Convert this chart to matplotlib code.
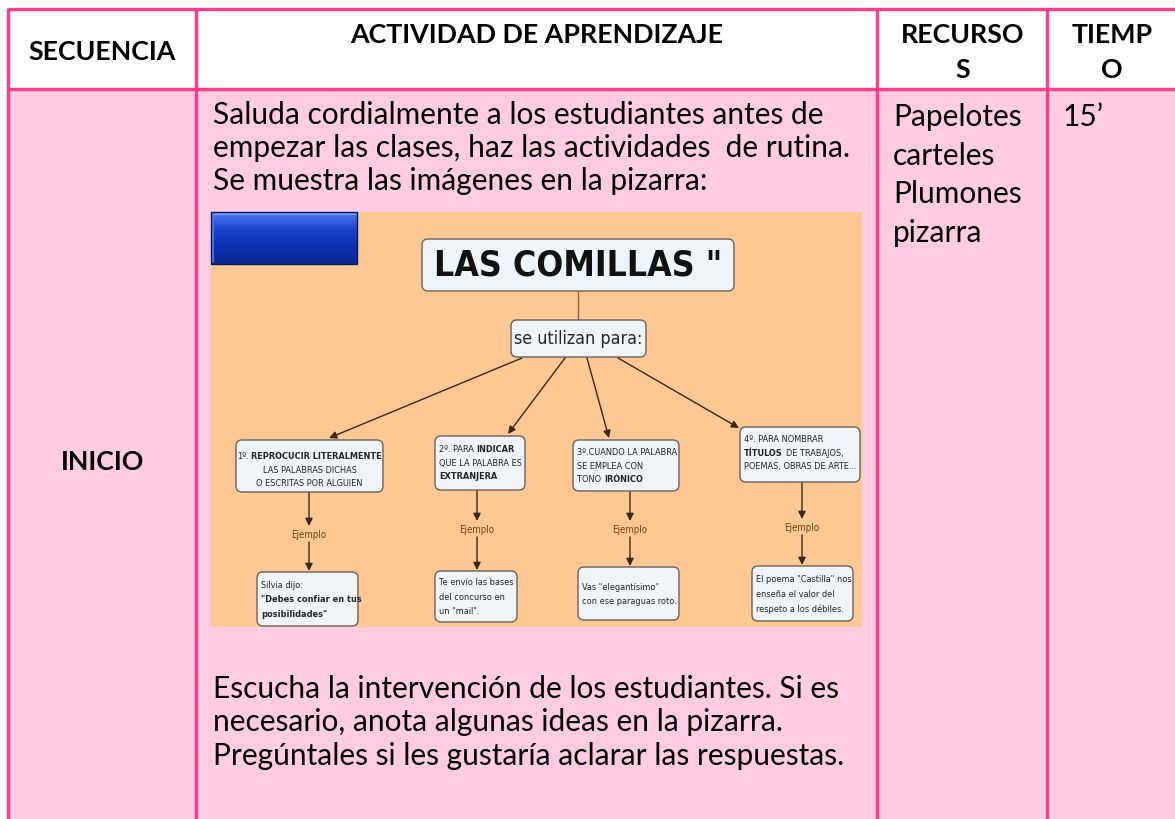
import matplotlib
matplotlib.use("Agg")
import matplotlib.pyplot as plt
import numpy as np
from matplotlib.patches import Rectangle, FancyBboxPatch
from matplotlib.colors import LinearSegmentedColormap

# table content
headers = ["SECUENCIA", "ACTIVIDAD DE APRENDIZAJE", "RECURSO\nS", "TIEMP\nO"]
stage = "INICIO"
activity_top = ["Saluda cordialmente a los estudiantes antes de",
                "empezar las clases, haz las actividades  de rutina.",
                "Se muestra las imágenes en la pizarra:"]
activity_bottom = ["Escucha la intervención de los estudiantes. Si es",
                   "necesario, anota algunas ideas en la pizarra.",
                   "Pregúntales si les gustaría aclarar las respuestas."]
resources = ["Papelotes", "carteles", "Plumones", "pizarra"]
time_txt = "15’"

# concept map content
map_title = 'LAS COMILLAS "'
map_link = "se utilizan para:"
uses = [
    [[("1º.", "normal"), ("REPROCUCIR LITERALMENTE", "bold")],
     [("LAS PALABRAS DICHAS", "normal")],
     [("O ESCRITAS POR ALGUIEN", "normal")]],
    [[("2º. PARA", "normal"), ("INDICAR", "bold")],
     [("QUE LA PALABRA ES", "normal")],
     [("EXTRANJERA", "bold")]],
    [[("3º.CUANDO LA PALABRA", "normal")],
     [("SE EMPLEA CON", "normal")],
     [("TONO", "normal"), ("IRÓNICO", "bold")]],
    [[("4º. PARA NOMBRAR", "normal")],
     [("TÍTULOS", "bold"), ("DE TRABAJOS,", "normal")],
     [("POEMAS, OBRAS DE ARTE...", "normal")]],
]
examples = [
    [("Silvia dijo:", "normal"), ('"Debes confiar en tus', "bold"), ('posibilidades"', "bold")],
    [("Te envío las bases", "normal"), ("del concurso en", "normal"), ('un "mail".', "normal")],
    [('Vas "elegantísimo"', "normal"), ("con ese paraguas roto.", "normal")],
    [('El poema "Castilla" nos', "normal"), ("enseña el valor del", "normal"),
     ("respeto a los débiles.", "normal")],
]
example_word = "Ejemplo"

BODY_FONT = ["Lato", "DejaVu Sans"]
MAP_FONT = ["DejaVu Sans"]
PINK = "#FF3B8A"
PINK_FILL = "#FFCCE1"
BODY_SIZE = 21.5
HEAD_SIZE = 19.3

fig = plt.figure(figsize=(11.75, 8.2), dpi=100)
ax = fig.add_axes([0, 0, 1, 1])
ax.set_xlim(0, 1175)
ax.set_ylim(820, 0)
ax.axis("off")
renderer = fig.canvas.get_renderer()

# table frame
ax.add_patch(Rectangle((8, 90), 1175, 740, facecolor=PINK_FILL, edgecolor="none", zorder=0))
col_x = [8, 196, 877, 1047]
for y in [10, 90]:
    ax.plot([8, 1175], [y, y], color=PINK, lw=2.4, solid_capstyle="butt", zorder=5)
for x in col_x:
    ax.plot([x, x], [9, 820], color=PINK, lw=2.4, solid_capstyle="butt", zorder=5)

# header
hkw = dict(fontsize=HEAD_SIZE, fontweight="bold", family=BODY_FONT, ha="center", va="center")
ax.text(102, 52, headers[0], **hkw)
ax.text(537, 35, headers[1], **hkw)
for cx, h in [(963, headers[2]), (1112, headers[3])]:
    a, b = h.split("\n")
    ax.text(cx, 35, a, **hkw)
    ax.text(cx, 70, b, **hkw)

ax.text(103, 462, stage, **hkw)

bkw = dict(fontsize=BODY_SIZE, family=BODY_FONT, ha="left", va="center")
for i, s in enumerate(activity_top):
    ax.text(213, 115 + 33 * i, s, **bkw)
for i, s in enumerate(activity_bottom):
    ax.text(213, 689 + 33.5 * i, s, **bkw)
for i, s in enumerate(resources):
    ax.text(893, 117 + 38.7 * i, s, **bkw)
ax.text(1063, 117, time_txt, **bkw)

# concept map picture
ax.add_patch(Rectangle((211, 213), 651, 415, facecolor="#FEC894", edgecolor="none", zorder=1))
grad = np.linspace(0, 1, 50).reshape(-1, 1)
blue = LinearSegmentedColormap.from_list("b", ["#4A78F0", "#1A44CC", "#0C30B0", "#0A2890"])
ax.imshow(grad, cmap=blue, extent=(211, 357, 265, 213), aspect="auto", zorder=2)
ax.plot([213, 355], [215, 215], color="#7FA0F8", lw=1.2, zorder=3)
ax.plot([213, 213], [215, 263], color="#5A82EE", lw=1.2, zorder=3)
ax.add_patch(Rectangle((211, 213), 146, 52, facecolor="none", edgecolor="#07185A", lw=1, zorder=3))

BOX = dict(facecolor="#EEF4F8", edgecolor="#6E6258", lw=1.0, zorder=3)
TXT = "#262626"


def box(x0, y0, x1, y1):
    ax.add_patch(FancyBboxPatch((x0, y0), x1 - x0, y1 - y0,
                                boxstyle="round,pad=0,rounding_size=6", **BOX))


def arrow(p0, p1):
    ax.annotate("", xy=p1, xytext=p0,
                arrowprops=dict(arrowstyle="-|>", color="#3A2818", lw=1.0,
                                mutation_scale=11, shrinkA=0, shrinkB=0), zorder=3)


def fit(x, y, s, width, weight="normal", ha="center", color=TXT):
    t = ax.text(x, y, s, fontsize=10, fontweight=weight, family=MAP_FONT,
                fontstretch="condensed", ha=ha, va="center", color=color, zorder=4)
    w = t.get_window_extent(renderer).width
    t.set_fontsize(10 * width / w)
    return 10 * width / w


def rich(x, y, parts, size, ha="left", color=TXT):
    objs, widths = [], []
    gap = 0.3 * size * 100 / 72
    for s, w in parts:
        t = ax.text(0, y, s, fontsize=size, fontweight=w, family=MAP_FONT,
                    fontstretch="condensed", ha="left", va="center", color=color, zorder=4)
        widths.append(t.get_window_extent(renderer).width)
        objs.append(t)
    total = sum(widths) + gap * (len(widths) - 1)
    start = x - total / 2 if ha == "center" else x
    for t, wd in zip(objs, widths):
        t.set_x(start)
        start += wd + gap


box(422, 240, 734, 292)
fit(578, 266, map_title, 288, weight="bold", color="#111111")
ax.plot([578, 578], [292, 321], color="#8A6040", lw=1, zorder=2)
box(511, 321, 646, 358)
fit(578, 339, map_link, 128)

# base size for small map text from one reference line
probe = ax.text(0, 0, uses[0][2][0][0], fontsize=10, family=MAP_FONT, fontstretch="condensed")
SMALL = 10 * 108 / probe.get_window_extent(renderer).width
probe.remove()

use_boxes = [(236, 441, 383, 493), (435, 437, 525, 491), (573, 441, 679, 492), (740, 428, 860, 483)]
use_text_y = [457, 450, 453, 440]
use_tops = [(329, 439), (508, 435), (609, 439), (739, 429)]
starts = [(522, 359), (565, 359), (587, 359), (618, 359)]
for (x0, y0, x1, y1), ty, top, st, lines in zip(use_boxes, use_text_y, use_tops, starts, uses):
    box(x0, y0, x1, y1)
    arrow(st, top)
    for j, parts in enumerate(lines):
        yy = ty + 13.5 * j
        if x0 == 236:
            rich((x0 + x1) / 2, yy, parts, SMALL, ha="center")
        else:
            rich(x0 + 4, yy, parts, SMALL)

ex_boxes = [(257, 573, 358, 627), (435, 572, 517, 623), (578, 568, 679, 621), (752, 567, 853, 622)]
ejemplo_y = [535, 530, 530, 528]
ex_x = [309, 477, 630, 802]
for k, ((x0, y0, x1, y1), cx, ey, lines) in enumerate(zip(ex_boxes, ex_x, ejemplo_y, examples)):
    ub = use_boxes[k]
    arrow((cx, ub[3] + 1), (cx, ey - 8))
    ax.text(cx, ey, example_word, fontsize=SMALL * 1.05, family=MAP_FONT, fontstretch="condensed",
            ha="center", va="center", color="#7A3E12", zorder=4)
    arrow((cx, ey + 8), (cx, y0 - 1))
    box(x0, y0, x1, y1)
    n = len(lines)
    yc = (y0 + y1) / 2
    for j, (s, w) in enumerate(lines):
        yy = yc + (j - (n - 1) / 2) * 14.5
        ax.text(x0 + 4, yy, s, fontsize=SMALL, fontweight=w, family=MAP_FONT,
                fontstretch="condensed", ha="left", va="center", color=TXT, zorder=4)

fig.savefig("out.png", dpi=100)
